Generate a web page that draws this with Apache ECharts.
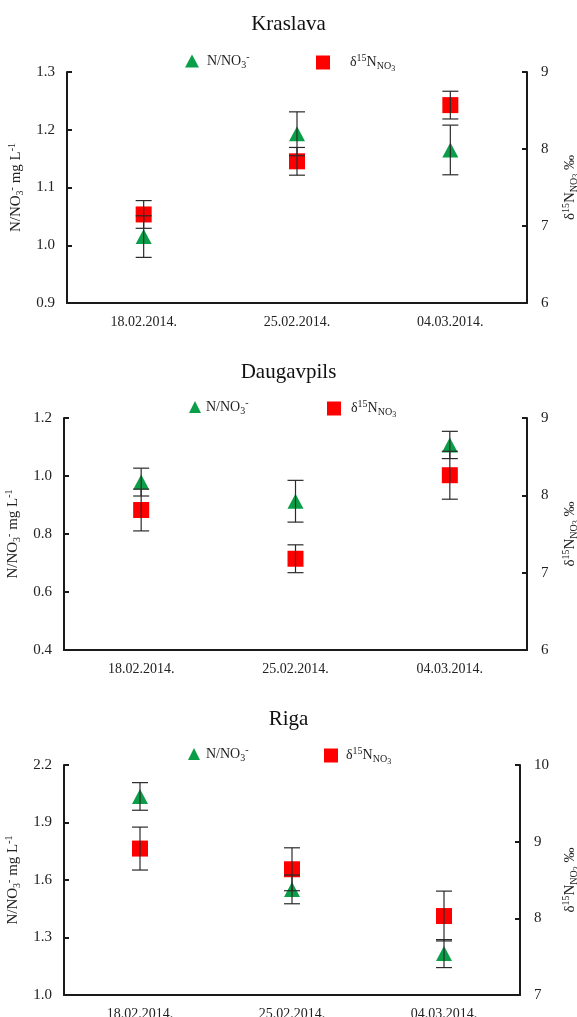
<!DOCTYPE html>
<html><head><meta charset="utf-8">
<script src="https://cdn.jsdelivr.net/npm/echarts@6/dist/echarts.min.js"></script>
<style>html,body{margin:0;padding:0;background:#fff}#c{width:577px;height:1017px}</style>
</head><body><div id="c"></div>
<script>
const categories = ['18.02.2014.', '25.02.2014.', '04.03.2014.'];
const panelTitles = ['Kraslava', 'Daugavpils', 'Riga'];

const kraslavaNitrate = [1.015, 1.193, 1.165];
const kraslavaNitrateErr = [0.036, 0.038, 0.043];
const kraslavaDelta = [7.15, 7.84, 8.57];
const kraslavaDeltaErr = [0.18, 0.18, 0.18];

const daugavpilsNitrate = [0.979, 0.913, 1.107];
const daugavpilsNitrateErr = [0.048, 0.072, 0.047];
const daugavpilsDelta = [7.81, 7.18, 8.26];
const daugavpilsDeltaErr = [0.27, 0.18, 0.31];

const rigaNitrate = [2.036, 1.551, 1.216];
const rigaNitrateErr = [0.072, 0.075, 0.073];
const rigaDelta = [8.91, 8.64, 8.03];
const rigaDeltaErr = [0.28, 0.28, 0.325];

const leftTicks = [[0.9, 1.3, 0.1], [0.4, 1.2, 0.2], [1.0, 2.2, 0.3]];
const rightTicks = [[6, 9, 1], [6, 9, 1], [7, 10, 1]];

const nitrate = [kraslavaNitrate, daugavpilsNitrate, rigaNitrate];
const nitrateErr = [kraslavaNitrateErr, daugavpilsNitrateErr, rigaNitrateErr];
const delta = [kraslavaDelta, daugavpilsDelta, rigaDelta];
const deltaErr = [kraslavaDeltaErr, daugavpilsDeltaErr, rigaDeltaErr];

const FONT = '"Liberation Serif", "DejaVu Serif", serif';
const GREEN = '#0a9e48';
const RED = '#ff0000';
const AX = '#1a1a1a';

const grids = [
  {left: 67, top: 72, width: 460, height: 231},
  {left: 64, top: 418, width: 463, height: 232},
  {left: 64, top: 765, width: 456, height: 230}
];
const titleTops = [9, 357, 704];
const legendTops = [47, 393, 740];
const legendTriLeft = [180, 184, 183];
const legendSqLeft = [311, 322, 319];
const legendTriPad = [3, 0, 1];
const legendSqPad = [15, 5, 3];

function richBase(size) {
  return {
    m: {fontSize: size, fontFamily: FONT, color: '#222', lineHeight: 17},
    sub: {fontSize: 10, fontFamily: FONT, color: '#222', lineHeight: 10, padding: [8, 0, 0, 0]},
    sup: {fontSize: 10, fontFamily: FONT, color: '#222', lineHeight: 10, padding: [0, 0, 8, 0]},
    subsub: {fontSize: 8, fontFamily: FONT, color: '#222', lineHeight: 8, padding: [13, 0, 0, 0]}
  };
}
const nitrateLabel = '{m|N/NO}{sub|3}{sup|-}';
const deltaLabel = '{m|δ}{sup|15}{m|N}{sub|NO}{subsub|3}';
const leftName = '{m|N/NO}{sub|3}{sup|-}{m| mg L}{sup|-1}';
const rightName = '{m|δ}{sup|15}{m|N}{sub|NO}{subsub|3}{m| ‰}';

function renderErr(params, api) {
  const x = api.value(0), lo = api.value(1), hi = api.value(2);
  const a = api.coord([x, lo]), b = api.coord([x, hi]);
  const hw = 8;
  const style = {stroke: '#2a2a2a', lineWidth: 1.2};
  return {type: 'group', children: [
    {type: 'line', shape: {x1: a[0], y1: a[1], x2: b[0], y2: b[1]}, style: style},
    {type: 'line', shape: {x1: a[0] - hw, y1: a[1], x2: a[0] + hw, y2: a[1]}, style: style},
    {type: 'line', shape: {x1: b[0] - hw, y1: b[1], x2: b[0] + hw, y2: b[1]}, style: style}
  ]};
}

const option = {
  animation: false,
  backgroundColor: '#fff',
  title: [], grid: [], xAxis: [], yAxis: [], legend: [], series: []
};

for (let p = 0; p < 3; p++) {
  option.title.push({
    text: panelTitles[p], left: 'center', top: titleTops[p],
    textStyle: {fontFamily: FONT, fontSize: 21, fontWeight: 'normal', color: '#111'}
  });
  option.grid.push(Object.assign({containLabel: false, outerBoundsMode: 'none'}, grids[p]));
  option.xAxis.push({
    type: 'category', gridIndex: p, data: categories, boundaryGap: true,
    axisLine: {show: true, lineStyle: {color: AX, width: 2}},
    axisTick: {show: false},
    axisLabel: {fontFamily: FONT, fontSize: 14, color: '#222', margin: 12},
    splitLine: {show: false}
  });
  const lt = leftTicks[p], rt = rightTicks[p];
  option.yAxis.push({
    type: 'value', gridIndex: p, position: 'left', min: lt[0], max: lt[1], interval: lt[2],
    axisLine: {show: true, lineStyle: {color: AX, width: 2}},
    axisTick: {show: true, inside: true, length: 5, lineStyle: {color: AX, width: 2}},
    axisLabel: {fontFamily: FONT, fontSize: 15, color: '#222', margin: 12,
      formatter: function (v) { return v.toFixed(1); }},
    splitLine: {show: false},
    name: leftName, nameLocation: 'middle', nameRotate: 90, nameGap: 38,
    nameTextStyle: {rich: richBase(15)}
  });
  option.yAxis.push({
    type: 'value', gridIndex: p, position: 'right', min: rt[0], max: rt[1], interval: rt[2],
    axisLine: {show: true, lineStyle: {color: AX, width: 2}},
    axisTick: {show: true, inside: true, length: 5, lineStyle: {color: AX, width: 2}},
    axisLabel: {fontFamily: FONT, fontSize: 15, color: '#222', margin: 14,
      formatter: function (v) { return String(Math.round(v)); }},
    splitLine: {show: false},
    name: rightName, nameLocation: 'middle', nameRotate: 90, nameGap: 28,
    nameTextStyle: {rich: richBase(15)}
  });

  const rT = richBase(14); rT.pad = {width: legendTriPad[p], fontSize: 14, lineHeight: 16};
  const rS = richBase(14); rS.pad = {width: legendSqPad[p], fontSize: 14, lineHeight: 16};
  option.legend.push({
    data: [{name: 'nitrate', icon: 'triangle'}], left: legendTriLeft[p], top: legendTops[p],
    itemWidth: p === 0 ? 14 : 12, itemHeight: p === 0 ? 13 : 12, selectedMode: false,
    formatter: function () { return '{pad|}' + nitrateLabel; },
    textStyle: {rich: rT}
  });
  option.legend.push({
    data: [{name: 'delta', icon: 'rect'}], left: legendSqLeft[p], top: legendTops[p],
    itemWidth: 14, itemHeight: 14, selectedMode: false,
    formatter: function () { return '{pad|}' + deltaLabel; },
    textStyle: {rich: rS}
  });

  option.series.push({
    name: 'nitrate', type: 'scatter', xAxisIndex: p, yAxisIndex: 2 * p,
    data: nitrate[p], symbol: 'triangle', symbolSize: [16, 15],
    itemStyle: {color: GREEN, opacity: 1}, z: 3
  });
  option.series.push({
    name: 'delta', type: 'scatter', xAxisIndex: p, yAxisIndex: 2 * p + 1,
    data: delta[p], symbol: 'rect', symbolSize: 16,
    itemStyle: {color: RED, opacity: 1}, z: 3
  });
  option.series.push({
    type: 'custom', xAxisIndex: p, yAxisIndex: 2 * p, renderItem: renderErr,
    encode: {x: 0, y: [1, 2]}, z: 5, silent: true,
    data: nitrate[p].map(function (v, i) { return [i, v - nitrateErr[p][i], v + nitrateErr[p][i]]; })
  });
  option.series.push({
    type: 'custom', xAxisIndex: p, yAxisIndex: 2 * p + 1, renderItem: renderErr,
    encode: {x: 0, y: [1, 2]}, z: 5, silent: true,
    data: delta[p].map(function (v, i) { return [i, v - deltaErr[p][i], v + deltaErr[p][i]]; })
  });
}

const chart = echarts.init(document.getElementById('c'), null, {renderer: 'canvas'});
chart.setOption(option);
</script>
</body></html>
